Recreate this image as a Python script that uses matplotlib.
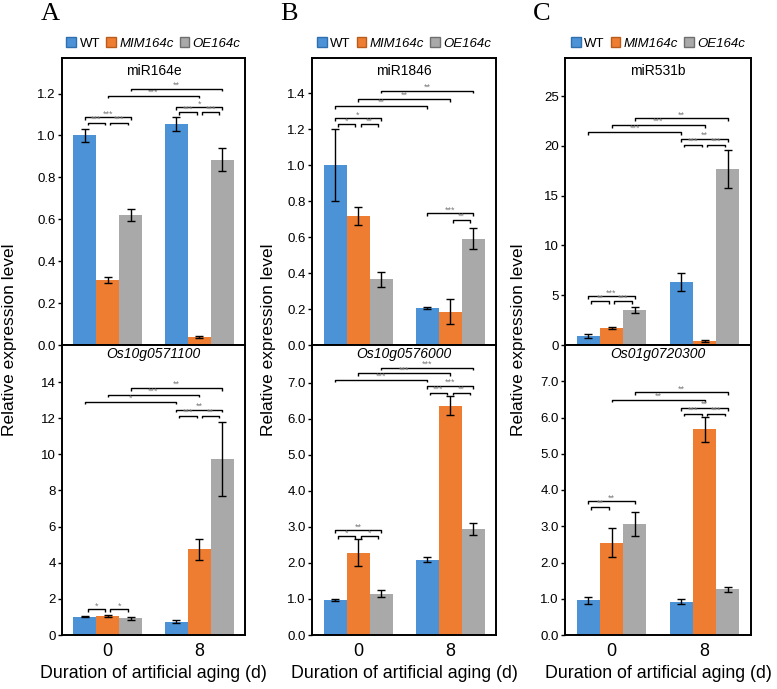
import matplotlib
matplotlib.use('Agg')
import matplotlib.pyplot as plt
from matplotlib.patches import Patch
import numpy as np

plt.rcParams['font.family'] = ['Liberation Sans', 'DejaVu Sans']

# ---- data ----
series = ['WT', 'MIM164c', 'OE164c']
colors = ['#4b93d6', '#ee7d31', '#a9a9a9']
edge_colors = ['#2f6fae', '#b85c1c', '#6f6f6f']
days = ['0', '8']

# panel A
a_top_gene = 'miR164e'
a_top_mean = [[1.00, 1.055], [0.31, 0.038], [0.62, 0.884]]
a_top_err = [[0.03, 0.035], [0.016, 0.005], [0.03, 0.055]]
a_top_sig = [(0, 2, 1.087, '***'), (0, 1, 1.061, '***'), (1, 2, 1.061, '***'),
             (1, 4, 1.189, '***'), (2, 5, 1.222, '**'),
             (3, 5, 1.135, '*'), (3, 4, 1.111, '***'), (4, 5, 1.111, '***')]
a_bot_gene = 'Os10g0571100'
a_bot_mean = [[1.00, 0.74], [1.05, 4.75], [0.92, 9.75]]
a_bot_err = [[0.03, 0.10], [0.04, 0.59], [0.08, 2.03]]
a_bot_sig = [(2, 5, 13.67, '**'), (1, 4, 13.30, '***'), (0, 3, 12.91, '*'),
             (3, 5, 12.47, '**'), (3, 4, 12.13, '***'), (4, 5, 12.13, '**'),
             (0, 1, 1.42, '*'), (1, 2, 1.42, '*')]

# panel B
b_top_gene = 'miR1846'
b_top_mean = [[1.00, 0.206], [0.718, 0.185], [0.365, 0.59]]
b_top_err = [[0.20, 0.004], [0.05, 0.069], [0.04, 0.058]]
b_top_sig = [(2, 5, 1.413, '**'), (1, 4, 1.368, '**'), (0, 3, 1.329, '**'),
             (0, 2, 1.261, '*'), (0, 1, 1.228, '*'), (1, 2, 1.228, '**'),
             (3, 5, 0.732, '***'), (4, 5, 0.695, '**')]
b_bot_gene = 'Os10g0576000'
b_bot_mean = [[0.97, 2.09], [2.28, 6.36], [1.15, 2.94]]
b_bot_err = [[0.02, 0.06], [0.37, 0.26], [0.11, 0.16]]
b_bot_sig = [(2, 5, 7.41, '***'), (1, 4, 7.25, '***'), (0, 3, 7.08, '***'),
             (3, 5, 6.90, '***'), (3, 4, 6.72, '***'), (4, 5, 6.72, '**'),
             (0, 2, 2.90, '**'), (0, 1, 2.74, '*'), (1, 2, 2.74, '*')]

# panel C
c_top_gene = 'miR531b'
c_top_mean = [[0.90, 6.29], [1.72, 0.40], [3.51, 17.7]]
c_top_err = [[0.20, 0.91], [0.08, 0.06], [0.30, 1.92]]
c_top_sig = [(2, 5, 22.78, '**'), (1, 4, 22.09, '***'), (0, 3, 21.39, '***'),
             (3, 5, 20.70, '**'), (3, 4, 20.13, '***'), (4, 5, 20.13, '***'),
             (0, 2, 4.90, '***'), (0, 1, 4.37, '**'), (1, 2, 4.37, '***')]
c_bot_gene = 'Os01g0720300'
c_bot_mean = [[0.96, 0.92], [2.54, 5.67], [3.06, 1.26]]
c_bot_err = [[0.10, 0.06], [0.40, 0.34], [0.33, 0.07]]
c_bot_sig = [(2, 5, 6.69, '**'), (1, 4, 6.49, '**'),
             (3, 5, 6.26, '**'), (3, 4, 6.10, '***'), (4, 5, 6.10, '***'),
             (0, 2, 3.69, '**'), (0, 1, 3.53, '**')]

panels = [
    ('A', a_top_gene, a_top_mean, a_top_err, a_top_sig, (1.368, np.arange(0, 1.21, 0.2), '%.1f'),
     a_bot_gene, a_bot_mean, a_bot_err, a_bot_sig, (16.05, np.arange(0, 15, 2), '%d')),
    ('B', b_top_gene, b_top_mean, b_top_err, b_top_sig, (1.594, np.arange(0, 1.41, 0.2), '%.1f'),
     b_bot_gene, b_bot_mean, b_bot_err, b_bot_sig, (8.04, np.arange(0, 7.1, 1.0), '%.1f')),
    ('C', c_top_gene, c_top_mean, c_top_err, c_top_sig, (28.8, np.arange(0, 26, 5), '%d'),
     c_bot_gene, c_bot_mean, c_bot_err, c_bot_sig, (8.0, np.arange(0, 7.1, 1.0), '%.1f')),
]

W, H = 777, 689
fig = plt.figure(figsize=(W / 100, H / 100), dpi=100)

x_left = [62, 312, 565]
x_right = [245, 496, 751]
y_top, y_mid, y_bot = 58.3, 345, 635
ylab_x = [10, 268, 518]

width = 0.25
group_x = np.arange(len(days))


def bar_pos(idx):
    g, s = divmod(idx, 3)
    return group_x[g] + (s - 1) * width


def draw_bars(ax, mean, err, sig, lim, gene, italic, top):
    ymax, ticks, fmt = lim
    for s in range(3):
        ax.bar(group_x + (s - 1) * width, mean[s], width, color=colors[s],
               yerr=err[s], error_kw=dict(ecolor='black', elinewidth=1.0, capsize=2.8, capthick=1.0),
               zorder=2)
    tick_h = ymax * 0.009
    for i, j, y, lab in sig:
        x0, x1 = bar_pos(i), bar_pos(j)
        if j - i == 1:
            x0 += 0.03
            x1 -= 0.03
        ax.plot([x0, x0, x1, x1], [y - tick_h, y, y, y - tick_h], color='black', lw=1.0,
                solid_capstyle='butt', zorder=3)
        ax.annotate(lab, ((x0 + x1) / 2, y), xytext=(0, -0.8), textcoords='offset points',
                    ha='center', va='bottom', fontsize=6.5, color='#7a7a7a')
    ax.set_xlim(-0.5, 1.5)
    ax.set_ylim(0, ymax)
    ax.set_yticks(ticks)
    ax.set_yticklabels([fmt % t for t in ticks], fontsize=9.5)
    ax.tick_params(axis='y', direction='out', length=3, width=1.0, pad=1.5)
    for sp in ax.spines.values():
        sp.set_linewidth(1.4)
    ax.text(0.5, 0.955 if top else 0.968, gene, transform=ax.transAxes, ha='center', va='center',
            fontsize=10, style='italic' if italic else 'normal')


for k, (letter, tg, tm, te, ts, tl, bg, bm, be, bs, bl) in enumerate(panels):
    l = x_left[k] / W
    w = (x_right[k] - x_left[k]) / W
    ax_top = fig.add_axes([l, 1 - y_mid / H, w, (y_mid - y_top) / H])
    ax_bot = fig.add_axes([l, 1 - y_bot / H, w, (y_bot - y_mid) / H])

    draw_bars(ax_top, tm, te, ts, tl, tg, False, True)
    ax_top.set_xticks([])
    draw_bars(ax_bot, bm, be, bs, bl, bg, True, False)
    ax_bot.set_xticks(group_x)
    ax_bot.set_xticklabels(days, fontsize=13)
    ax_bot.tick_params(axis='x', length=0, pad=6)
    ax_bot.set_xlabel('Duration of artificial aging (d)', fontsize=12.8, labelpad=3)

    fig.text(ylab_x[k] / W, 1 - 340 / H, 'Relative expression level', rotation=90,
             ha='center', va='center', fontsize=12.5)

    handles = [Patch(facecolor=colors[s], edgecolor=edge_colors[s], linewidth=1.0) for s in range(3)]
    leg = ax_top.legend(handles, series, loc='lower center', bbox_to_anchor=(0.5, 1.0), ncol=3,
                        frameon=False, fontsize=9.5, handlelength=0.75, handleheight=0.75,
                        handletextpad=0.25, columnspacing=0.45, borderaxespad=0.25)
    for t in leg.get_texts()[1:]:
        t.set_style('italic')

    cx = [50, 289, 542][k]
    fig.text(cx / W, 1 - 14 / H, letter, ha='center', va='center', fontsize=19,
             family=['Liberation Serif', 'DejaVu Serif'])

fig.savefig('out.png', dpi=100)
